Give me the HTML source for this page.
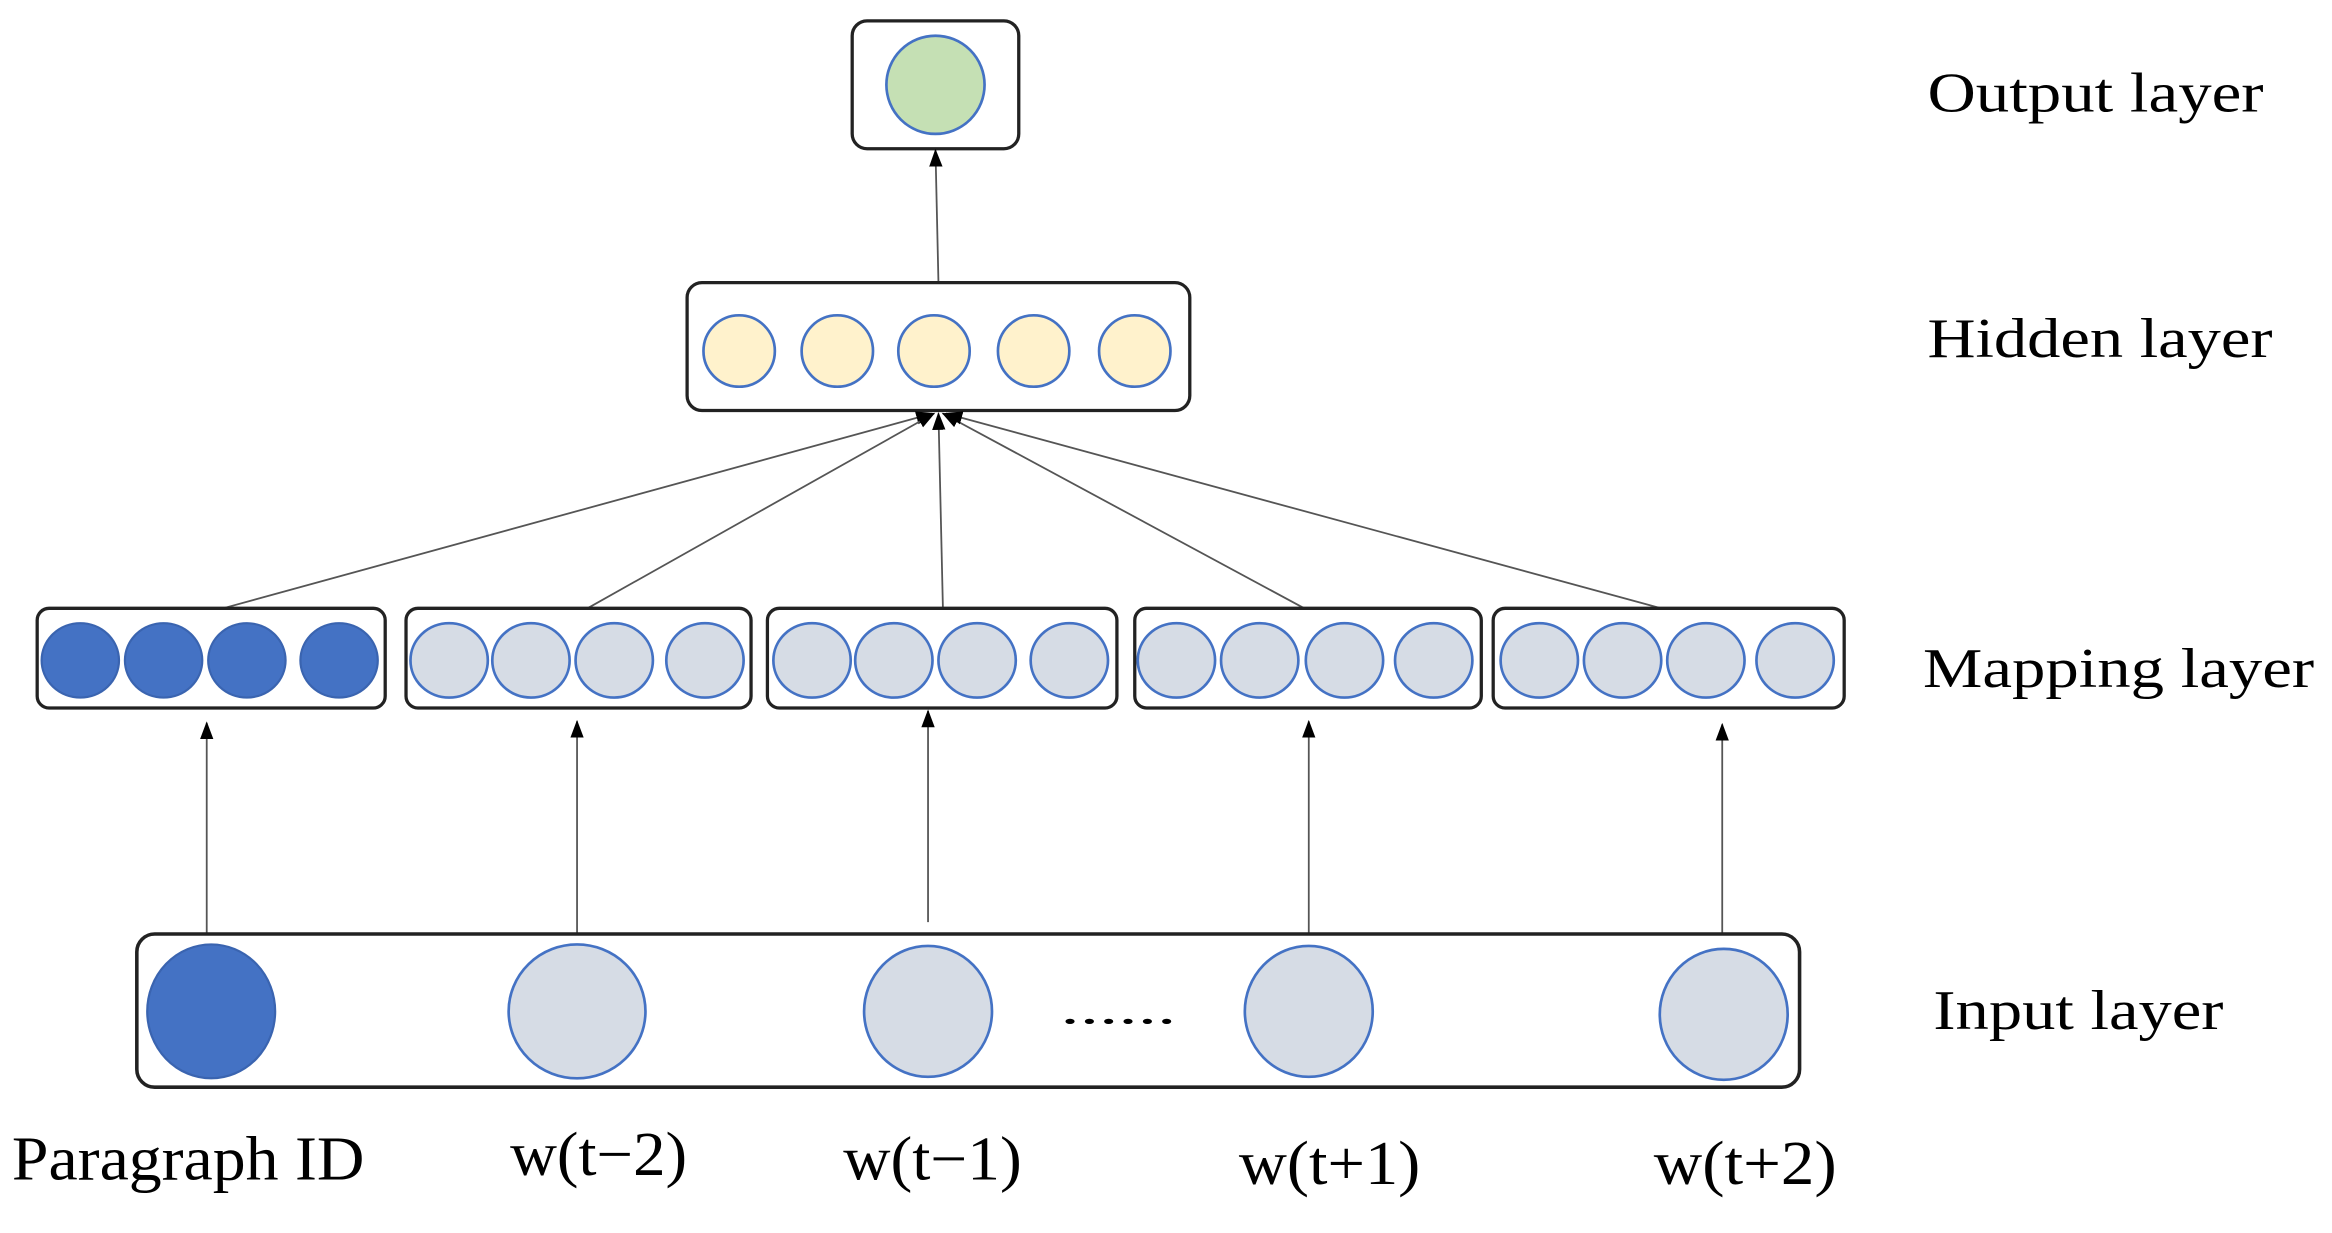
<!DOCTYPE html>
<html><head><meta charset="utf-8"><style>
html,body{margin:0;padding:0;background:#fff;}
svg{display:block;}
text{font-family:"Liberation Serif",serif;fill:#000;}
</style></head><body>
<svg width="2332" height="1233" viewBox="0 0 1568 829" xmlns="http://www.w3.org/2000/svg">
<defs>
<marker id="a" markerWidth="12" markerHeight="12" refX="11" refY="6" orient="auto" markerUnits="userSpaceOnUse">
<path d="M0,1.5 L12,6 L0,10.5 Z" fill="#000"/>
</marker>
</defs>
<rect x="573" y="14" width="112" height="86" rx="10" fill="#fff" stroke="#222" stroke-width="2.2"/>
<circle cx="629" cy="57" r="33" fill="#C5E0B4" stroke="#4472C4" stroke-width="1.8"/>
<line x1="631" y1="190" x2="629" y2="101" stroke="#555" stroke-width="1.2" marker-end="url(#a)"/>
<rect x="462" y="190" width="338" height="86" rx="10" fill="#fff" stroke="#222" stroke-width="2.2"/>
<g fill="#FFF2CC" stroke="#4472C4" stroke-width="1.8">
<ellipse cx="497" cy="236" rx="24" ry="24"/>
<ellipse cx="563" cy="236" rx="24" ry="24"/>
<ellipse cx="628" cy="236" rx="24" ry="24"/>
<ellipse cx="695" cy="236" rx="24" ry="24"/>
<ellipse cx="763" cy="236" rx="24" ry="24"/>
</g>
<g stroke="#555" stroke-width="1.2" marker-end="url(#a)">
<line x1="150" y1="409" x2="627" y2="278"/>
<line x1="395" y1="409" x2="628" y2="278"/>
<line x1="634" y1="409" x2="631" y2="278"/>
<line x1="877" y1="409" x2="634" y2="278"/>
<line x1="1117" y1="409" x2="636" y2="278"/>
</g>
<g fill="#fff" stroke="#222" stroke-width="2.2">
<rect x="25" y="409" width="234" height="67" rx="8"/>
<rect x="273" y="409" width="232" height="67" rx="8"/>
<rect x="516" y="409" width="235" height="67" rx="8"/>
<rect x="763" y="409" width="233" height="67" rx="8"/>
<rect x="1004" y="409" width="236" height="67" rx="8"/>
</g>
<g fill="#4472C4" stroke="#3A64B0" stroke-width="1.5">
<ellipse cx="54" cy="444" rx="26" ry="25"/>
<ellipse cx="110" cy="444" rx="26" ry="25"/>
<ellipse cx="166" cy="444" rx="26" ry="25"/>
<ellipse cx="228" cy="444" rx="26" ry="25"/>
</g>
<g fill="#D6DCE5" stroke="#4472C4" stroke-width="1.8">
<ellipse cx="302" cy="444" rx="26" ry="25"/><ellipse cx="357" cy="444" rx="26" ry="25"/><ellipse cx="413" cy="444" rx="26" ry="25"/><ellipse cx="474" cy="444" rx="26" ry="25"/>
<ellipse cx="546" cy="444" rx="26" ry="25"/><ellipse cx="601" cy="444" rx="26" ry="25"/><ellipse cx="657" cy="444" rx="26" ry="25"/><ellipse cx="719" cy="444" rx="26" ry="25"/>
<ellipse cx="791" cy="444" rx="26" ry="25"/><ellipse cx="847" cy="444" rx="26" ry="25"/><ellipse cx="904" cy="444" rx="26" ry="25"/><ellipse cx="964" cy="444" rx="26" ry="25"/>
<ellipse cx="1035" cy="444" rx="26" ry="25"/><ellipse cx="1091" cy="444" rx="26" ry="25"/><ellipse cx="1147" cy="444" rx="26" ry="25"/><ellipse cx="1207" cy="444" rx="26" ry="25"/>
</g>
<g stroke="#555" stroke-width="1.2" marker-end="url(#a)">
<line x1="139" y1="628" x2="139" y2="486"/>
<line x1="388" y1="628" x2="388" y2="485"/>
<line x1="624" y1="620" x2="624" y2="478"/>
<line x1="880" y1="628" x2="880" y2="485"/>
<line x1="1158" y1="628" x2="1158" y2="487"/>
</g>
<rect x="92" y="628" width="1118" height="103" rx="12" fill="#fff" stroke="#222" stroke-width="2.4"/>
<ellipse cx="142" cy="680" rx="43" ry="45" fill="#4472C4" stroke="#3A64B0" stroke-width="1.5"/>
<g fill="#D6DCE5" stroke="#4472C4" stroke-width="1.8">
<ellipse cx="388" cy="680" rx="46" ry="45"/>
<ellipse cx="624" cy="680" rx="43" ry="44"/>
<ellipse cx="880" cy="680" rx="43" ry="44"/>
<ellipse cx="1159" cy="682" rx="43" ry="44"/>
</g>
<text x="713" y="688" font-size="30" textLength="78" lengthAdjust="spacingAndGlyphs">......</text>
<text x="8" y="793" font-size="42" textLength="237" lengthAdjust="spacingAndGlyphs">Paragraph ID</text>
<text x="343" y="790" font-size="42" textLength="119" lengthAdjust="spacingAndGlyphs">w(t−2)</text>
<text x="567" y="793" font-size="42" textLength="120" lengthAdjust="spacingAndGlyphs">w(t−1)</text>
<text x="833" y="796" font-size="42" textLength="122" lengthAdjust="spacingAndGlyphs">w(t+1)</text>
<text x="1112" y="796" font-size="42" textLength="123" lengthAdjust="spacingAndGlyphs">w(t+2)</text>
<text x="1296" y="75" font-size="38" textLength="226" lengthAdjust="spacingAndGlyphs">Output layer</text>
<text x="1296" y="240" font-size="38" textLength="232" lengthAdjust="spacingAndGlyphs">Hidden layer</text>
<text x="1293" y="462" font-size="38" textLength="263" lengthAdjust="spacingAndGlyphs">Mapping layer</text>
<text x="1300" y="692" font-size="38" textLength="195" lengthAdjust="spacingAndGlyphs">Input layer</text>
</svg>
</body></html>
